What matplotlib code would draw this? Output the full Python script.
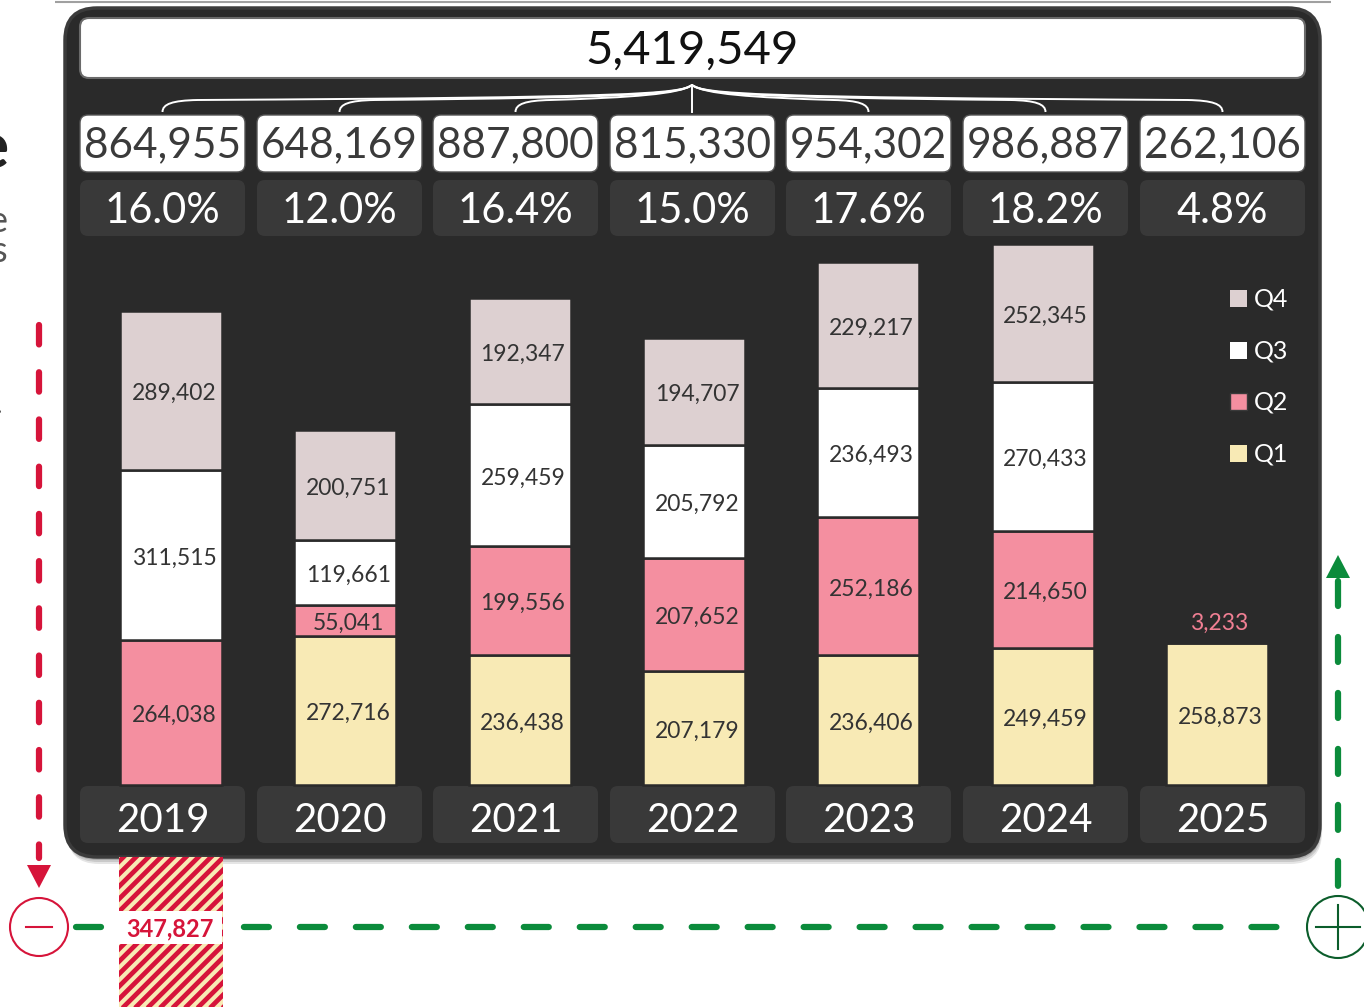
import matplotlib
matplotlib.use('Agg')
import matplotlib.pyplot as plt
from matplotlib.patches import FancyBboxPatch, Rectangle, Circle, Polygon, PathPatch
from matplotlib.path import Path
import numpy as np

plt.rcParams['font.family'] = ['Lato', 'DejaVu Sans']
plt.rcParams['lines.scale_dashes'] = False

# ---------------- data ----------------
years = ['2019', '2020', '2021', '2022', '2023', '2024', '2025']
q1 = [0, 272716, 236438, 207179, 236406, 249459, 258873]
q2 = [264038, 55041, 199556, 207652, 252186, 214650, 3233]
q3 = [311515, 119661, 259459, 205792, 236493, 270433, 0]
q4 = [289402, 200751, 192347, 194707, 229217, 252345, 0]
series_names = ['Q1', 'Q2', 'Q3', 'Q4']
missing_value = 347827  # shown as hatched bar below 2019

totals = [a + b + c + d for a, b, c, d in zip(q1, q2, q3, q4)]
grand_total = sum(totals)
shares = [t / grand_total * 100 for t in totals]

# ---------------- style ----------------
W, H = 1364, 1007
PANEL = '#2a2a2a'
BOXDARK = '#393939'
C_Q1 = '#f8eab5'
C_Q2 = '#f48fa0'
C_Q3 = '#ffffff'
C_Q4 = '#ddd0d1'
colors = [C_Q1, C_Q2, C_Q3, C_Q4]
RED = '#d6143a'
GREEN = '#0b8b3b'
GREEN_DARK = '#0b5d2b'
LABEL = '#333333'

fig = plt.figure(figsize=(W / 100, H / 100), dpi=100)
fig.patch.set_facecolor('white')

# decoration axes in pixel coordinates (y downwards)
deco = fig.add_axes([0, 0, 1, 1])
deco.set_xlim(0, W)
deco.set_ylim(H, 0)
deco.axis('off')

# cropped neighbouring content at left edge / top line
deco.plot([55, 1331], [1.5, 1.5], color='#a0a0a0', lw=1.5, solid_capstyle='butt')
deco.text(9, 150, 'e', fontsize=46, fontweight='bold', color='#222222', ha='right', va='center')
deco.text(7, 222, 'e', fontsize=26, color='#555555', ha='right', va='center')
deco.text(7, 252, 's', fontsize=26, color='#555555', ha='right', va='center')
deco.text(2, 407, '.', fontsize=16, color='#555555', ha='right', va='center')

# panel shadow + panel
for off, a in [(7, 0.10), (5, 0.12), (3, 0.15)]:
    deco.add_patch(FancyBboxPatch((65 + off * 0.3, 8 + off), 1255, 849,
                                  boxstyle='round,pad=0,rounding_size=32',
                                  fc='black', ec='none', alpha=a))
deco.add_patch(FancyBboxPatch((65, 8), 1255, 849, boxstyle='round,pad=0,rounding_size=32',
                              fc=PANEL, ec='#3b3b3b', lw=2.5))

# grand total box
deco.add_patch(FancyBboxPatch((80, 18), 1225, 60, boxstyle='round,pad=0,rounding_size=9',
                              fc='white', ec='#6a6a6a', lw=1.5))
deco.text(692, 51, f'{grand_total:,}', fontsize=34, color='#111111', ha='center', va='center')

# per-year boxes (pixel layout)
box_left = [80, 257, 433, 610, 786, 963, 1140]
box_w = 165
box_cx = [l + box_w / 2 for l in box_left]
for i, l in enumerate(box_left):
    deco.add_patch(FancyBboxPatch((l, 115), box_w, 57, boxstyle='round,pad=0,rounding_size=8',
                                  fc='white', ec='#555555', lw=1))
    deco.text(box_cx[i], 145, f'{totals[i]:,}', fontsize=30.5, color='#3a3a3a',
              ha='center', va='center')
    deco.add_patch(FancyBboxPatch((l, 180), box_w, 56, boxstyle='round,pad=0,rounding_size=8',
                                  fc=BOXDARK, ec='none'))
    deco.text(box_cx[i], 211, f'{shares[i]:.1f}%', fontsize=30, color='white',
              ha='center', va='center')
    deco.add_patch(FancyBboxPatch((l, 786), box_w, 57, boxstyle='round,pad=0,rounding_size=8',
                                  fc=BOXDARK, ec='none'))
    deco.text(box_cx[i], 820, years[i], fontsize=29, color='white', ha='center', va='center')

# braces from the grand total to each yearly box
apx, apy = 692, 85
for cx in box_cx:
    s = np.sign(cx - apx)
    if abs(cx - apx) < 5:
        deco.plot([apx, apx], [apy, 112], color='white', lw=1.4)
        continue
    verts = [(apx, apy), (apx + s * 12, 94), (apx + s * 60, 97.5), (cx - s * 35, 100),
             (cx - s * 10, 100.5), (cx, 104), (cx, 112)]
    codes = [Path.MOVETO] + [Path.CURVE4] * 6
    deco.add_patch(PathPatch(Path(verts, codes), fc='none', ec='white', lw=1.4))

# legend
leg_y = {'Q4': 298, 'Q3': 350, 'Q2': 401, 'Q1': 453}
for name, col in zip(series_names, colors):
    y = leg_y[name]
    deco.add_patch(Rectangle((1230, y - 8.5), 17, 17, fc=col,
                             ec='#3a3a3a' if name == 'Q2' else 'none', lw=1))
    deco.text(1254, y + 1, name, fontsize=18, color='white', ha='left', va='center')

# red dashed arrow + minus circle
deco.plot([39, 39], [325, 858], color=RED, lw=4.5, linestyle=(0, (14, 20)),
          dash_capstyle='round')
deco.add_patch(Polygon([(27, 865), (51, 865), (39, 888)], closed=True, fc=RED, ec='none'))
deco.add_patch(Circle((39, 927), 29, fill=False, ec=RED, lw=1.5))
deco.plot([26, 52], [927, 927], color=RED, lw=1.5)

# green dashed path + plus circle
deco.plot([76, 1290], [927, 927], color=GREEN, lw=4.5, linestyle=(0, (18, 22.3)),
          dash_capstyle='round')
deco.plot([1338, 1338], [581, 892], color=GREEN, lw=4.5, linestyle=(0, (18, 22.3)),
          dash_capstyle='round')
deco.add_patch(Polygon([(1326, 578), (1350, 578), (1338, 555)], closed=True, fc=GREEN, ec='none'))
deco.add_patch(Circle((1338, 927), 31, fill=False, ec=GREEN_DARK, lw=1.5))
deco.plot([1316, 1360], [927, 927], color=GREEN_DARK, lw=1.5)
deco.plot([1338, 1338], [905, 949], color=GREEN_DARK, lw=1.5)

# ---------------- bars ----------------
PX_PER_UNIT = 548 / 1e6
base_px = 785
top_px = 237
ax = fig.add_axes([84 / W, 0, 1220 / W, (H - top_px) / H])
ax.set_xlim(-0.5, 6.5)
ax.set_ylim(-(H - base_px) / PX_PER_UNIT, 1e6)
ax.axis('off')
ax.patch.set_alpha(0)

x = np.arange(len(years))
bw = 0.585
bottom = np.zeros(len(years))
for vals, col in zip([q1, q2, q3, q4], colors):
    v = np.array(vals, dtype=float)
    ax.bar(x, v, bottom=bottom, width=bw, color=col, edgecolor=PANEL, linewidth=1.8)
    for i, val in enumerate(v):
        if val <= 0:
            continue
        if val < 20000:
            ax.annotate(f'{int(val):,}', (x[i], bottom[i] + val + 33000),
                        xytext=(2, 0), textcoords='offset points', fontsize=16.5,
                        color='#f07f93', ha='center', va='center')
        else:
            ax.annotate(f'{int(val):,}', (x[i], bottom[i] + val / 2),
                        xytext=(2.2, -2.2), textcoords='offset points', fontsize=16.5,
                        color=LABEL, ha='center', va='center')
    bottom += v

# hatched (missing) bar below the panel
gap = (857 - base_px) / PX_PER_UNIT
miss_bars = ax.bar([0], [-missing_value], bottom=-gap, width=0.597, color=C_Q1,
                   linewidth=0)
miss_patch = miss_bars[0]

# overlay: diagonal stripes clipped to the missing bar, label band
over = fig.add_axes([0, 0, 1, 1])
over.set_xlim(0, W)
over.set_ylim(H, 0)
over.axis('off')
over.patch.set_alpha(0)
for c in np.arange(118 + 850, 230 + 1010, 12.5):
    ln, = over.plot([c - 1010, c - 850], [1010, 850], color=RED, lw=3.4,
                    solid_capstyle='butt', zorder=2)
    ln.set_clip_path(miss_patch)
over.add_patch(Rectangle((118, 911), 104, 33, fc='white', ec='none', zorder=5))
over.text(170, 929, f'{missing_value:,}', fontsize=17, fontweight='bold', color=RED,
          ha='center', va='center', zorder=6)

fig.savefig('out.png', dpi=100, facecolor='white')
